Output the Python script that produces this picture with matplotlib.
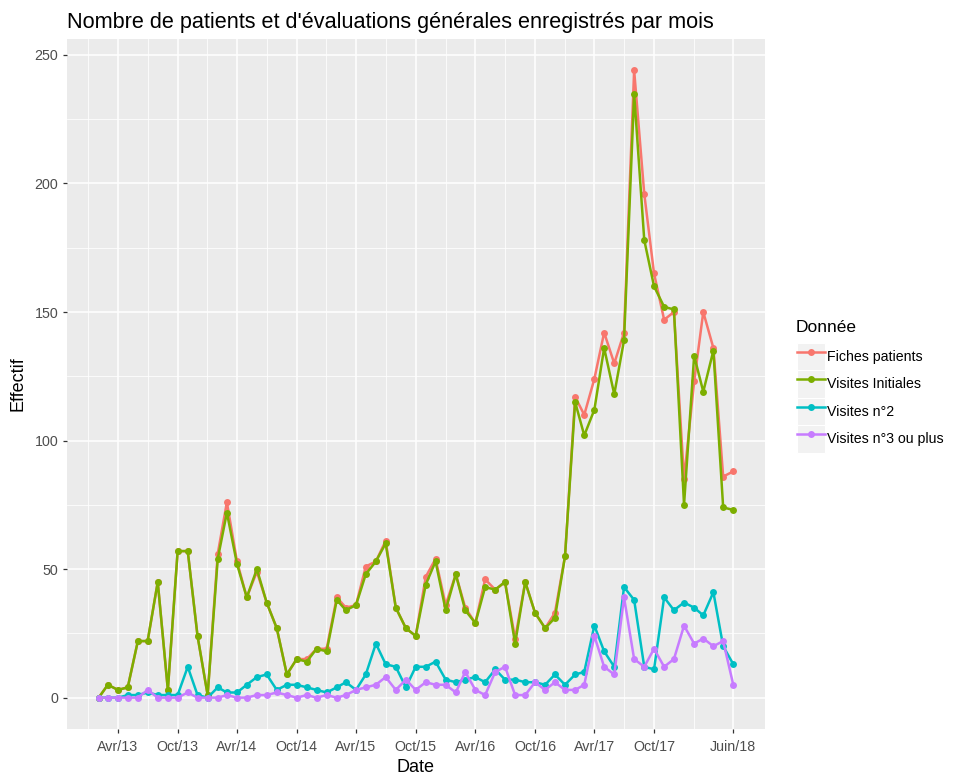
import matplotlib
matplotlib.use("Agg")
import matplotlib.pyplot as plt
import matplotlib.dates as mdates
import numpy as np
import pandas as pd
from matplotlib.legend_handler import HandlerLine2D
from matplotlib.patches import Rectangle
from matplotlib.lines import Line2D

plt.rcParams['font.family'] = ['Liberation Sans', 'DejaVu Sans']

# ---------------- data ----------------
months = pd.date_range('2013-02-01', '2018-06-01', freq='MS')

fiches_patients = [0, 5, 3, 4, 22, 22, 45, 3, 57, 57, 24, 1,
                   56, 76, 53, 39, 49, 37, 27, 9, 15, 15, 19, 19,
                   39, 35, 36, 51, 53, 61, 35, 27, 24, 47, 54, 36,
                   48, 35, 29, 46, 42, 45, 23, 45, 33, 27, 33, 55,
                   117, 110, 124, 142, 130, 142, 244, 196, 165, 147, 150, 85,
                   123, 150, 136, 86, 88]
visites_initiales = [0, 5, 3, 4, 22, 22, 45, 3, 57, 57, 24, 1,
                     54, 72, 52, 39, 50, 37, 27, 9, 15, 14, 19, 18,
                     38, 34, 36, 48, 53, 60, 35, 27, 24, 44, 53, 34,
                     48, 34, 29, 43, 42, 45, 21, 45, 33, 27, 31, 55,
                     115, 102, 112, 136, 118, 139, 235, 178, 160, 152, 151, 75,
                     133, 119, 135, 74, 73]
visites_n2 = [0, 0, 0, 1, 1, 2, 1, 1, 1, 12, 1, 0,
              4, 2, 2, 5, 8, 9, 3, 5, 5, 4, 3, 2,
              4, 6, 3, 9, 21, 13, 12, 4, 12, 12, 14, 7,
              6, 7, 8, 6, 11, 7, 7, 6, 6, 5, 9, 5,
              9, 10, 28, 18, 12, 43, 38, 12, 11, 39, 34, 37,
              35, 32, 41, 20, 13]
visites_n3 = [0, 0, 0, 0, 0, 3, 0, 0, 0, 2, 0, 0,
              0, 1, 0, 0, 1, 1, 2, 1, 0, 1, 0, 1,
              0, 1, 3, 4, 5, 8, 3, 7, 3, 6, 5, 5,
              2, 10, 3, 1, 10, 12, 1, 1, 6, 3, 6, 3,
              3, 5, 24, 12, 9, 39, 15, 12, 19, 12, 15, 28,
              21, 23, 20, 22, 5]

series_names = ['Fiches patients', 'Visites Initiales', 'Visites n°2', 'Visites n°3 ou plus']
series_values = [fiches_patients, visites_initiales, visites_n2, visites_n3]
series_colors = ['#F8766D', '#7CAE00', '#00BFC4', '#C77CFF']

tick_dates = pd.to_datetime(['2013-04-01', '2013-10-01', '2014-04-01', '2014-10-01',
                             '2015-04-01', '2015-10-01', '2016-04-01', '2016-10-01',
                             '2017-04-01', '2017-10-01', '2018-06-01'])
tick_labels = ['Avr/13', 'Oct/13', 'Avr/14', 'Oct/14', 'Avr/15', 'Oct/15',
               'Avr/16', 'Oct/16', 'Avr/17', 'Oct/17', 'Juin/18']
y_major = [0, 50, 100, 150, 200, 250]

title = "Nombre de patients et d'évaluations générales enregistrés par mois"
legend_title = 'Donnée'

# ---------------- figure ----------------
W, H = 954, 776
fig = plt.figure(figsize=(W / 100, H / 100), dpi=100)
fig.patch.set_facecolor('white')
ax = fig.add_axes([67 / W, 1 - 729 / H, (765 - 67) / W, (729 - 39) / H])
ax.set_facecolor('#EBEBEB')
for s in ax.spines.values():
    s.set_visible(False)

handles = []
for name, vals, col in zip(series_names, series_values, series_colors):
    h, = ax.plot(months, vals, color=col, lw=1.8, marker='o', markersize=5,
                 markeredgewidth=0, label=name, zorder=3)
    handles.append(h)

# limits with ggplot-style 5% expansion
xnum = mdates.date2num(months)
xr = xnum.max() - xnum.min()
ax.set_xlim(xnum.min() - 0.05 * xr, xnum.max() + 0.05 * xr)
ymax = max(max(v) for v in series_values)
ax.set_ylim(-0.05 * ymax, ymax * 1.05)

# ticks
tnum = mdates.date2num(tick_dates)
ax.set_xticks(tnum)
ax.set_xticklabels(tick_labels)
minor_x = list((tnum[:-1] + tnum[1:]) / 2)
minor_x = [tnum[0] - (tnum[1] - tnum[0]) / 2] + minor_x
ax.set_xticks(minor_x, minor=True)
ax.set_yticks(y_major)
ax.set_yticks([25, 75, 125, 175, 225], minor=True)

ax.grid(which='major', color='white', lw=1.1, zorder=0)
ax.grid(which='minor', color='white', lw=0.55, zorder=0)
ax.set_axisbelow(True)

ax.tick_params(which='major', length=3.2, width=0.9, color='#333333',
               labelcolor='#4D4D4D', labelsize=10.3, pad=3)
ax.tick_params(which='minor', length=0)
ax.tick_params(axis='x', pad=5)

ax.set_xlabel('Date', fontsize=13, color='black', labelpad=3)
ax.set_ylabel('Effectif', fontsize=13, color='black', labelpad=6)
ax.set_title(title, loc='left', fontsize=15.6, color='black', pad=8)


# legend with grey key background
class KeyHandler(HandlerLine2D):
    def create_artists(self, legend, orig_handle, xdescent, ydescent,
                       width, height, fontsize, trans):
        arts = super().create_artists(legend, orig_handle, xdescent, ydescent,
                                      width, height, fontsize, trans)
        rect = Rectangle((-xdescent, -ydescent), width, height,
                         facecolor='#F2F2F2', edgecolor='white', lw=0.8,
                         transform=trans)
        return [rect] + list(arts)


fig.text(796 / W, 1 - 327 / H, legend_title, fontsize=12.5, color='black',
         ha='left', va='center')
leg = fig.legend(handles=handles, labels=series_names,
                 loc='upper left', bbox_to_anchor=(797 / W, 1 - 343 / H),
                 frameon=False, fontsize=10.2,
                 handlelength=1.95, handleheight=2.6, labelspacing=0.0,
                 handletextpad=0.2, borderpad=0, borderaxespad=0,
                 handler_map={Line2D: KeyHandler(numpoints=1)})
for t in leg.get_texts():
    t.set_color('black')

fig.savefig('out.png', dpi=100, facecolor='white')
